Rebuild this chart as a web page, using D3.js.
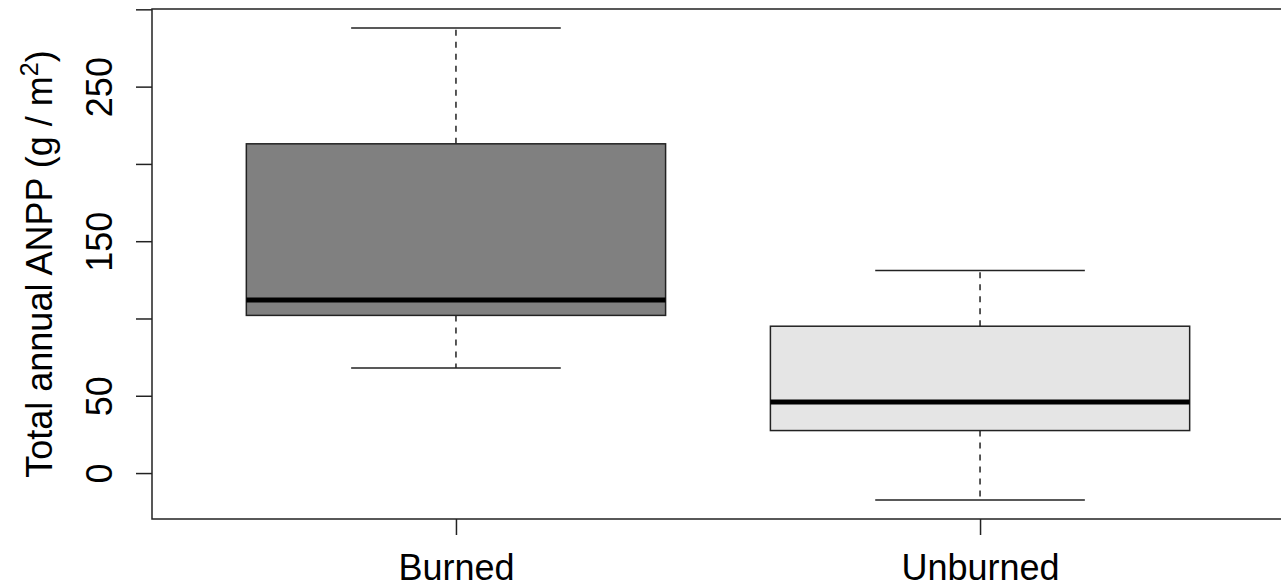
<!DOCTYPE html>
<html>
<head>
<meta charset="utf-8">
<script src="https://cdn.jsdelivr.net/npm/d3@7.9.0/dist/d3.min.js"></script>
<style>
  html, body { margin: 0; padding: 0; background: #fff; }
  svg { display: block; font-family: "Liberation Sans", Arial, sans-serif; }
</style>
</head>
<body>
<svg id="chart" width="1281" height="586"></svg>
<script>
// Box plot summaries (g/m^2)
const groups = ["Burned", "Unburned"];
const lowerWhisker = [68, -17.5];
const lowerQuartile = [102, 27.5];
const medians = [112, 46];
const upperQuartile = [213, 95];
const upperWhisker = [288, 131];

// Axis ticks, R drops labels that would overlap
const yTicks = [0, 50, 100, 150, 200, 250, 300];
const yTickLabels = [0, 50, 150, 250];

const boxFills = ["#808080", "#e5e5e5"];
const ink = "#222";

const svg = d3.select("#chart");
const plot = { left: 152, right: 1284, top: 9, bottom: 519 };

// R pads the data range by 4% on each side
const lo = d3.min(lowerWhisker), hi = d3.max(upperWhisker);
const pad = (hi - lo) * 0.04;
const y = d3.scaleLinear().domain([lo - pad, hi + pad]).range([plot.bottom, plot.top]);

// boxplot puts groups at 1..n with xlim n +/- 0.5, then 4% padding
const xPad = (groups.length) * 0.04;
const x = d3.scaleLinear()
  .domain([0.5 - xPad, groups.length + 0.5 + xPad])
  .range([plot.left, plot.right]);

const boxHalf = 0.4, capHalf = 0.2;

const stats = groups.map((g, i) => ({
  name: g,
  pos: i + 1,
  lw: lowerWhisker[i],
  q1: lowerQuartile[i],
  med: medians[i],
  q3: upperQuartile[i],
  uw: upperWhisker[i],
  fill: boxFills[i]
}));

const boxes = svg.append("g")
  .selectAll("g")
  .data(stats)
  .join("g");

// dashed whiskers
boxes.append("line")
  .attr("x1", d => x(d.pos)).attr("x2", d => x(d.pos))
  .attr("y1", d => y(d.q3)).attr("y2", d => y(d.uw))
  .attr("stroke", ink).attr("stroke-width", 1.5)
  .attr("stroke-dasharray", "6,6");
boxes.append("line")
  .attr("x1", d => x(d.pos)).attr("x2", d => x(d.pos))
  .attr("y1", d => y(d.q1)).attr("y2", d => y(d.lw))
  .attr("stroke", ink).attr("stroke-width", 1.5)
  .attr("stroke-dasharray", "6,6");

// caps
boxes.selectAll("line.cap")
  .data(d => [d.lw, d.uw].map(v => ({ v, pos: d.pos })))
  .join("line")
  .attr("class", "cap")
  .attr("x1", d => x(d.pos - capHalf)).attr("x2", d => x(d.pos + capHalf))
  .attr("y1", d => y(d.v)).attr("y2", d => y(d.v))
  .attr("stroke", ink).attr("stroke-width", 1.5);

// boxes
boxes.append("rect")
  .attr("x", d => x(d.pos - boxHalf))
  .attr("width", d => x(d.pos + boxHalf) - x(d.pos - boxHalf))
  .attr("y", d => y(d.q3))
  .attr("height", d => y(d.q1) - y(d.q3))
  .attr("fill", d => d.fill)
  .attr("stroke", ink).attr("stroke-width", 1.5);

// medians
boxes.append("line")
  .attr("x1", d => x(d.pos - boxHalf)).attr("x2", d => x(d.pos + boxHalf))
  .attr("y1", d => y(d.med)).attr("y2", d => y(d.med))
  .attr("stroke", "#000").attr("stroke-width", 5);

// frame
svg.append("rect")
  .attr("x", plot.left).attr("y", plot.top)
  .attr("width", plot.right - plot.left).attr("height", plot.bottom - plot.top)
  .attr("fill", "none").attr("stroke", ink).attr("stroke-width", 1.5);

// y axis
const yAxis = svg.append("g")
  .attr("transform", `translate(${plot.left},0)`)
  .call(d3.axisLeft(y).tickValues(yTicks).tickSize(16)
    .tickFormat(d => yTickLabels.includes(d) ? d : ""));
yAxis.select(".domain").remove();
yAxis.selectAll(".tick line").attr("stroke", ink).attr("stroke-width", 1.5);
yAxis.selectAll(".tick text")
  .attr("x", null).attr("dy", null)
  .attr("text-anchor", "middle")
  .attr("transform", "translate(-40,0) rotate(-90)")
  .attr("font-size", 36)
  .attr("font-family", "Liberation Sans, Arial, sans-serif")
  .attr("fill", "#000");

// x axis
const xAxis = svg.append("g")
  .attr("transform", `translate(0,${plot.bottom})`)
  .call(d3.axisBottom(x).tickValues(stats.map(d => d.pos)).tickSize(16)
    .tickFormat((d, i) => groups[i]));
xAxis.select(".domain").remove();
xAxis.selectAll(".tick line").attr("stroke", ink).attr("stroke-width", 1.5);
xAxis.selectAll(".tick text")
  .attr("y", 61).attr("dy", null)
  .attr("font-size", 36)
  .attr("font-family", "Liberation Sans, Arial, sans-serif")
  .attr("fill", "#000");

// y axis title
const title = svg.append("text")
  .attr("transform", `translate(52,${(plot.top + plot.bottom) / 2}) rotate(-90)`)
  .attr("text-anchor", "middle")
  .attr("font-size", 36)
  .attr("fill", "#000");
title.append("tspan").text("Total annual ANPP (g / m");
title.append("tspan").attr("baseline-shift", "super").attr("font-size", 25).text("2");
title.append("tspan").text(")");
</script>
</body>
</html>
